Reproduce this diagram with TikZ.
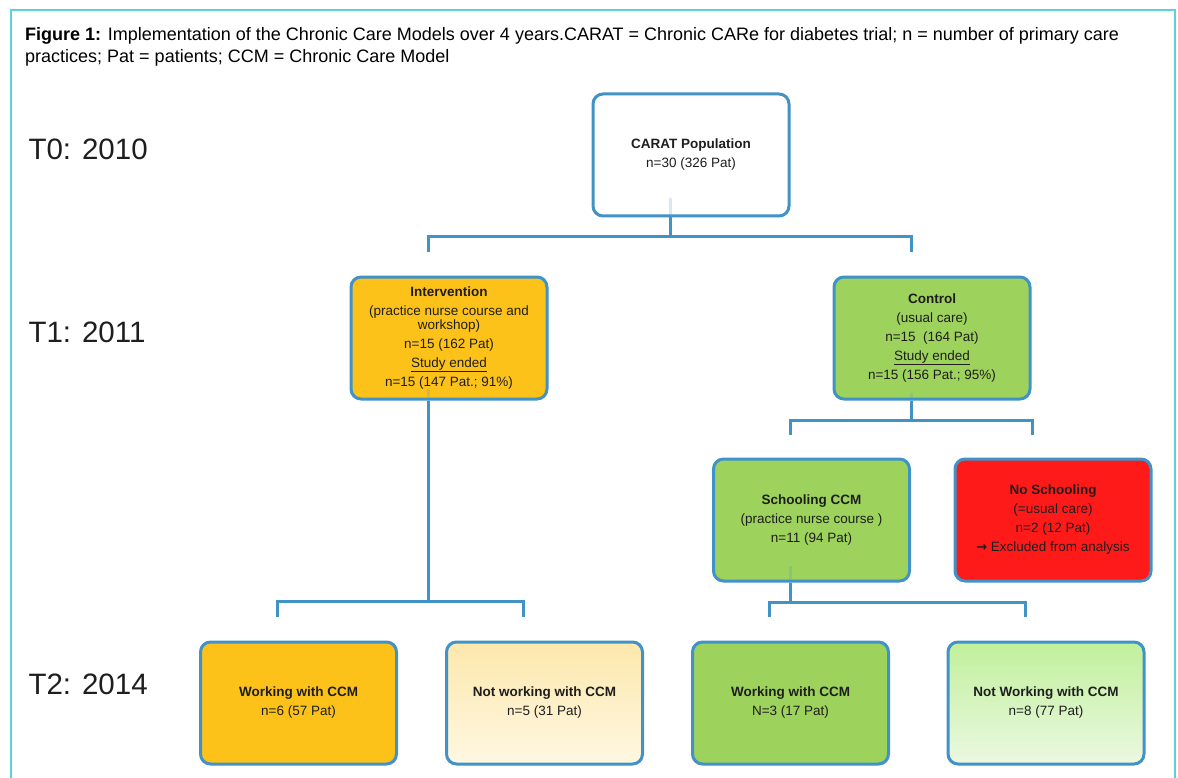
\documentclass[tikz,border=0pt]{standalone}
\usepackage{fontspec}
\setmainfont{Liberation Sans}
\newfontfamily\arrowfont{DejaVu Sans}
\usepackage{tikz}
\usetikzlibrary{arrows}

\definecolor{framecyan}{RGB}{95,208,222}
\definecolor{boxblue}{RGB}{64,146,199}
\definecolor{careorange}{RGB}{253,194,26}
\definecolor{caregreen}{RGB}{157,210,92}
\definecolor{carered}{RGB}{255,26,26}
\definecolor{textgray}{RGB}{30,30,30}

\begin{document}
\begin{tikzpicture}%
        [x=1pt,
        y=-1pt,
        frame/.style={color=framecyan, line width=2pt},
        box/.style={draw=boxblue, line width=3pt, rounded corners=10pt,
                    minimum width=196pt, minimum height=122pt, align=center,
                    text=textgray, font=\fontsize{13.5}{19}\selectfont},
        conn/.style={color=boxblue, line width=3pt},
        faint/.style={color=boxblue, line width=3pt, opacity=0.2},
        yearlabel/.style={anchor=base west, text=textgray, font=\fontsize{29.5}{30}\selectfont}]

    \useasboundingbox (0,0) rectangle (1178,778);
    %% Frame and caption
    \draw[frame] (11,778) -- (11,10) -- (1175,10) -- (1175,778);
    \node[anchor=base west, align=left, inner sep=0pt, font=\fontsize{18}{22}\selectfont] (caption) at (25,63)
        {\textbf{Figure 1:} Implementation of the Chronic Care Models over 4 years.CARAT = Chronic CARe for diabetes trial; n = number of primary care\\
         practices; Pat = patients; CCM = Chronic Care Model};
    %% Time points
    \node[yearlabel] (t0) at (25,160) {T0: 2010};
    \node[yearlabel] (t1) at (25,342) {T1: 2011};
    \node[yearlabel] (t2) at (25,694) {T2: 2014};
    %%
    %% Drawing the boxes
    %%
    \node[box, fill=white] (carat) at (691,155)
        {\textbf{CARAT Population}\\ n=30 (326 Pat)};
    \node[box, fill=careorange] (interv) at (449,338)
        {\textbf{Intervention}\\ (practice nurse course and\\[-5pt] workshop)\\
         n=15 (162 Pat)\\ \underline{Study ended}\\ n=15 (147 Pat.; 91\%)};
    \node[box, fill=caregreen] (ctrl) at (932,338)
        {\textbf{Control}\\ (usual care)\\ n=15\ \ (164 Pat)\\
         \underline{Study ended}\\ n=15 (156 Pat.; 95\%)};
    \node[box, fill=caregreen] (school) at (811.5,520)
        {\textbf{Schooling CCM}\\ (practice nurse course )\\ n=11 (94 Pat)};
    \node[box, fill=carered] (noschool) at (1053,520)
        {\textbf{No Schooling}\\ (=usual care)\\ n=2 (12 Pat)\\
         {\arrowfont\bfseries\fontsize{13}{13}\selectfont →} Excluded from analysis};
    \node[box, fill=careorange] (workint) at (298.5,703)
        {\textbf{Working with CCM}\\ n=6 (57 Pat)};
    \node[box, top color={rgb,255:red,253;green,232;blue,172},
          bottom color={rgb,255:red,254;green,247;blue,226}] (notworkint) at (544.5,703)
        {\textbf{Not working with CCM}\\ n=5 (31 Pat)};
    \node[box, fill=caregreen] (workctrl) at (790.5,703)
        {\textbf{Working with CCM}\\ N=3 (17 Pat)};
    \node[box, top color={rgb,255:red,192;green,240;blue,155},
          bottom color={rgb,255:red,236;green,248;blue,226}] (notworkctrl) at (1046,703)
        {\textbf{Not Working with CCM}\\ n=8 (77 Pat)};
    %%
    %% Drawing the connectors
    %%
    \draw[faint] ([xshift=-21pt,yshift=19pt]carat.south) -- ([xshift=-21pt]carat.south);
    \draw[conn] ([xshift=-21pt]carat.south) -- ++(0,19) coordinate (j0);
    \draw[conn] ([xshift=-21pt,yshift=24pt]interv.north) |- (j0) -| ([xshift=-21pt,yshift=24pt]ctrl.north);

    \draw[faint] ([xshift=-21pt,yshift=12pt]interv.south) -- ([xshift=-21pt]interv.south);
    \draw[conn] ([xshift=-21pt]interv.south) -- ++(0,201) coordinate (j1);
    \draw[conn] ([xshift=-21pt,yshift=24pt]workint.north) |- (j1) -| ([xshift=-21pt,yshift=24pt]notworkint.north);

    \draw[faint] ([xshift=-21pt,yshift=8pt]ctrl.south) -- ([xshift=-21pt]ctrl.south);
    \draw[conn] ([xshift=-21pt]ctrl.south) -- ++(0,20) coordinate (j2);
    \draw[conn] ([xshift=-21pt,yshift=23pt]school.north) |- (j2) -| ([xshift=-21pt,yshift=23pt]noschool.north);

    \draw[faint] ([xshift=-21pt,yshift=17pt]school.south) -- ([xshift=-21pt]school.south);
    \draw[conn] ([xshift=-21pt]school.south) -- ++(0,20) coordinate (j3);
    \draw[conn] ([xshift=-21pt,yshift=24pt]workctrl.north) |- (j3) -| ([xshift=-21pt,yshift=24pt]notworkctrl.north);
    %%
    \end{tikzpicture}
\end{document}
